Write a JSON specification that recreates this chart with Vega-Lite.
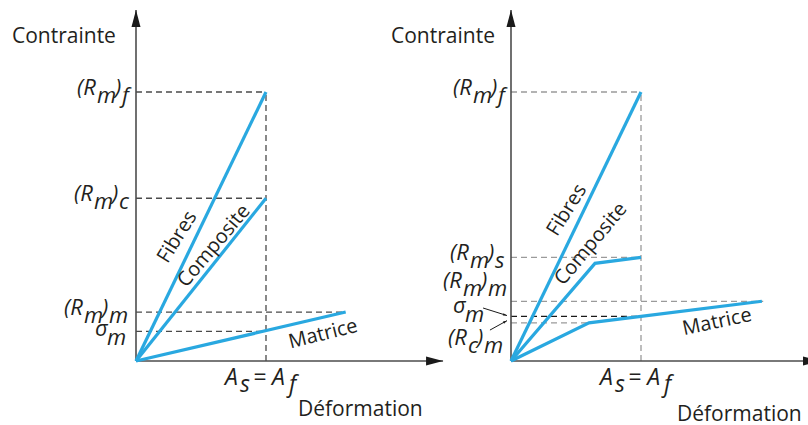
{
  "$schema": "https://vega.github.io/schema/vega-lite/v6.json",
  "autosize": {"type": "pad"},
  "padding": 0,
  "spacing": 0,
  "bounds": "flush",
  "background": "white",
  "config": {"view": {"stroke": null}, "font": "Open Sans", "text": {"color": "#231f20"}},
  "datasets": {
    "curves": [
      {"panel": "L", "series": "Fibres", "step": 0, "strain": 0, "stress": 0},
      {"panel": "L", "series": "Fibres", "step": 1, "strain": 1, "stress": 100},
      {"panel": "L", "series": "Composite", "step": 0, "strain": 0, "stress": 0},
      {"panel": "L", "series": "Composite", "step": 1, "strain": 1, "stress": 60.5},
      {"panel": "L", "series": "Matrice", "step": 0, "strain": 0, "stress": 0},
      {"panel": "L", "series": "Matrice", "step": 1, "strain": 1.613, "stress": 18.2},
      {"panel": "R", "series": "Fibres", "step": 0, "strain": 0, "stress": 0},
      {"panel": "R", "series": "Fibres", "step": 1, "strain": 1, "stress": 100},
      {"panel": "R", "series": "Composite", "step": 0, "strain": 0, "stress": 0},
      {"panel": "R", "series": "Composite", "step": 1, "strain": 0.646, "stress": 36.3},
      {"panel": "R", "series": "Composite", "step": 2, "strain": 1, "stress": 38.5},
      {"panel": "R", "series": "Matrice", "step": 0, "strain": 0, "stress": 0},
      {"panel": "R", "series": "Matrice", "step": 1, "strain": 0.6, "stress": 14.2},
      {"panel": "R", "series": "Matrice", "step": 2, "strain": 1, "stress": 16.6},
      {"panel": "R", "series": "Matrice", "step": 3, "strain": 1.93, "stress": 22.2}
    ],
    "guides": [
      {"panel": "L", "name": "Rmf", "strain": 0, "stress": 100, "strain2": 1, "stress2": 100},
      {"panel": "L", "name": "Rmc", "strain": 0, "stress": 60.5, "strain2": 1, "stress2": 60.5},
      {"panel": "L", "name": "Rmm", "strain": 0, "stress": 18.2, "strain2": 1.613, "stress2": 18.2},
      {"panel": "L", "name": "sigma", "strain": 0, "stress": 11, "strain2": 1, "stress2": 11},
      {"panel": "L", "name": "As", "strain": 1, "stress": 0, "strain2": 1, "stress2": 100},
      {"panel": "R", "name": "Rmf", "strain": 0, "stress": 100, "strain2": 1, "stress2": 100},
      {"panel": "R", "name": "Rms", "strain": 0, "stress": 38.5, "strain2": 1, "stress2": 38.5},
      {"panel": "R", "name": "Rmm", "strain": 0, "stress": 22.2, "strain2": 1.94, "stress2": 22.2},
      {"panel": "R", "name": "sigma", "strain": 0, "stress": 16.6, "strain2": 1, "stress2": 16.6},
      {"panel": "R", "name": "Rcm", "strain": 0, "stress": 14.2, "strain2": 0.6, "stress2": 14.2},
      {"panel": "R", "name": "As", "strain": 1, "stress": 0, "strain2": 1, "stress2": 100}
    ],
    "axes": [
      {"panel": "L", "dir": "y", "strain": 0, "stress": 0, "strain2": 0, "stress2": 130.5},
      {"panel": "L", "dir": "x", "strain": 0, "stress": 0, "strain2": 2.362, "stress2": 0},
      {"panel": "R", "dir": "y", "strain": 0, "stress": 0, "strain2": 0, "stress2": 130.5},
      {"panel": "R", "dir": "x", "strain": 0, "stress": 0, "strain2": 2.377, "stress2": 0}
    ],
    "pointers": [
      {"panel": "R", "name": "sigma", "strain": -0.215, "stress": 19.7, "strain2": -0.031, "stress2": 16.9},
      {"panel": "R", "name": "Rcm", "strain": -0.162, "stress": 11.5, "strain2": -0.031, "stress2": 15.0}
    ],
    "ticklabels": [
      {"panel": "L", "kind": "paren", "p1": "(R", "s1": "m", "p2": ")", "s2": "f", "strain": -0.454, "stress": 100},
      {"panel": "L", "kind": "paren", "p1": "(R", "s1": "m", "p2": ")", "s2": "c", "strain": -0.477, "stress": 60.5},
      {"panel": "L", "kind": "paren", "p1": "(R", "s1": "m", "p2": ")", "s2": "m", "strain": -0.554, "stress": 18.2},
      {"panel": "L", "kind": "sigma", "p1": "σ", "s1": "m", "p2": "", "s2": "", "strain": -0.315, "stress": 11},
      {"panel": "L", "kind": "As", "p1": "A", "s1": "s", "p2": "= A", "s2": "f", "strain": 1, "stress": 0},
      {"panel": "R", "kind": "paren", "p1": "(R", "s1": "m", "p2": ")", "s2": "f", "strain": -0.446, "stress": 100},
      {"panel": "R", "kind": "paren", "p1": "(R", "s1": "m", "p2": ")", "s2": "s", "strain": -0.469, "stress": 38.5},
      {"panel": "R", "kind": "paren", "p1": "(R", "s1": "m", "p2": ")", "s2": "m", "strain": -0.523, "stress": 28.3},
      {"panel": "R", "kind": "sigma", "p1": "σ", "s1": "m", "p2": "", "s2": "", "strain": -0.446, "stress": 19.7},
      {"panel": "R", "kind": "parenc", "p1": "(R", "s1": "c", "p2": ")", "s2": "m", "strain": -0.485, "stress": 7.1},
      {"panel": "R", "kind": "As", "p1": "A", "s1": "s", "p2": "= A", "s2": "f", "strain": 1, "stress": 0}
    ],
    "curvelabels": [
      {"panel": "L", "label": "Fibres", "strain": 0.318, "stress": 46.1},
      {"panel": "L", "label": "Composite", "strain": 0.6, "stress": 42.8},
      {"panel": "L", "label": "Matrice", "strain": 1.44, "stress": 10.0},
      {"panel": "R", "label": "Fibres", "strain": 0.43, "stress": 56.1},
      {"panel": "R", "label": "Composite", "strain": 0.615, "stress": 43.5},
      {"panel": "R", "label": "Matrice", "strain": 1.585, "stress": 14.5}
    ],
    "titles": [
      {"panel": "L", "text": "Contrainte", "strain": -0.954, "stress": 118.2},
      {"panel": "L", "text": "Déformation", "strain": 1.246, "stress": -20.4},
      {"panel": "R", "text": "Contrainte", "strain": -0.923, "stress": 118.2},
      {"panel": "R", "text": "Déformation", "strain": 1.277, "stress": -22.4}
    ]
  },
  "hconcat": [
    {
      "width": 390,
      "height": 425,
      "encoding": {
        "x": {"field": "strain", "type": "quantitative", "scale": {"domain": [-1.04615, 1.95385], "nice": false, "zero": false}, "axis": null},
        "y": {"field": "stress", "type": "quantitative", "scale": {"domain": [-23.7918, 134.2007], "nice": false, "zero": false}, "axis": null}
      },
      "layer": [
        {"data": {"name": "guides"}, "transform": [{"filter": "datum.panel == 'L'"}],
         "mark": {"type": "rule", "color": "#4a4a4a", "strokeWidth": 1.3, "strokeDash": [6, 4]},
         "encoding": {"x2": {"field": "strain2"}, "y2": {"field": "stress2"}}},
        {"data": {"name": "axes"}, "transform": [{"filter": "datum.panel == 'L'"}],
         "mark": {"type": "rule", "color": "#4d4d4d", "strokeWidth": 1.6},
         "encoding": {"x2": {"field": "strain2"}, "y2": {"field": "stress2"}}},
        {"data": {"name": "axes"}, "transform": [{"filter": "datum.panel == 'L' && datum.dir == 'y'"}],
         "mark": {"type": "point", "shape": "M0,0L0.53,2L-0.53,2Z", "size": 289, "filled": true, "opacity": 1, "color": "#1a1a1a", "strokeWidth": 0},
         "encoding": {"x": {"field": "strain2", "type": "quantitative"}, "y": {"field": "stress2", "type": "quantitative"}}},
        {"data": {"name": "axes"}, "transform": [{"filter": "datum.panel == 'L' && datum.dir == 'x'"}],
         "mark": {"type": "point", "shape": "M0,0L-2,0.53L-2,-0.53Z", "size": 289, "filled": true, "opacity": 1, "color": "#1a1a1a", "strokeWidth": 0},
         "encoding": {"x": {"field": "strain2", "type": "quantitative"}, "y": {"field": "stress2", "type": "quantitative"}}},
        {"data": {"name": "curves"}, "transform": [{"filter": "datum.panel == 'L'"}],
         "mark": {"type": "line", "color": "#29a8e0", "strokeWidth": 3.2, "strokeJoin": "miter"},
         "encoding": {"detail": {"field": "series"}, "order": {"field": "step", "type": "quantitative"}}},
        {"data": {"name": "curvelabels"}, "transform": [{"filter": "datum.panel == 'L' && datum.label == 'Fibres'"}],
         "mark": {"type": "text", "angle": -58, "fontSize": 20, "align": "center", "baseline": "middle"},
         "encoding": {"text": {"field": "label"}}},
        {"data": {"name": "curvelabels"}, "transform": [{"filter": "datum.panel == 'L' && datum.label == 'Composite'"}],
         "mark": {"type": "text", "angle": -50, "fontSize": 20, "align": "center", "baseline": "middle"},
         "encoding": {"text": {"field": "label"}}},
        {"data": {"name": "curvelabels"}, "transform": [{"filter": "datum.panel == 'L' && datum.label == 'Matrice'"}],
         "mark": {"type": "text", "angle": -14, "fontSize": 20, "align": "center", "baseline": "middle"},
         "encoding": {"text": {"field": "label"}}},
        {"data": {"name": "ticklabels"}, "transform": [{"filter": "datum.panel == 'L' && datum.kind == 'paren'"}],
         "mark": {"type": "text", "fontSize": 22, "fontStyle": "italic", "align": "left", "baseline": "alphabetic", "dy": 3},
         "encoding": {"text": {"field": "p1"}}},
        {"data": {"name": "ticklabels"}, "transform": [{"filter": "datum.panel == 'L' && datum.kind == 'paren'"}],
         "mark": {"type": "text", "fontSize": 22, "fontStyle": "italic", "align": "left", "baseline": "alphabetic", "dx": 20, "dy": 11},
         "encoding": {"text": {"field": "s1"}}},
        {"data": {"name": "ticklabels"}, "transform": [{"filter": "datum.panel == 'L' && datum.kind == 'paren'"}],
         "mark": {"type": "text", "fontSize": 22, "fontStyle": "italic", "align": "left", "baseline": "alphabetic", "dx": 38, "dy": 3},
         "encoding": {"text": {"field": "p2"}}},
        {"data": {"name": "ticklabels"}, "transform": [{"filter": "datum.panel == 'L' && datum.kind == 'paren'"}],
         "mark": {"type": "text", "fontSize": 22, "fontStyle": "italic", "align": "left", "baseline": "alphabetic", "dx": 45, "dy": 11},
         "encoding": {"text": {"field": "s2"}}},
        {"data": {"name": "ticklabels"}, "transform": [{"filter": "datum.panel == 'L' && datum.kind == 'sigma'"}],
         "mark": {"type": "text", "fontSize": 22, "fontStyle": "italic", "align": "left", "baseline": "alphabetic", "dy": 5},
         "encoding": {"text": {"field": "p1"}}},
        {"data": {"name": "ticklabels"}, "transform": [{"filter": "datum.panel == 'L' && datum.kind == 'sigma'"}],
         "mark": {"type": "text", "fontSize": 22, "fontStyle": "italic", "align": "left", "baseline": "alphabetic", "dx": 12, "dy": 14},
         "encoding": {"text": {"field": "s1"}}},
        {"data": {"name": "ticklabels"}, "transform": [{"filter": "datum.panel == 'L' && datum.kind == 'As'"}],
         "mark": {"type": "text", "fontSize": 23, "fontStyle": "italic", "align": "left", "baseline": "alphabetic", "dx": -41, "dy": 24},
         "encoding": {"text": {"field": "p1"}}},
        {"data": {"name": "ticklabels"}, "transform": [{"filter": "datum.panel == 'L' && datum.kind == 'As'"}],
         "mark": {"type": "text", "fontSize": 23, "fontStyle": "italic", "align": "left", "baseline": "alphabetic", "dx": -26, "dy": 31},
         "encoding": {"text": {"field": "s1"}}},
        {"data": {"name": "ticklabels"}, "transform": [{"filter": "datum.panel == 'L' && datum.kind == 'As'"}],
         "mark": {"type": "text", "fontSize": 23, "fontStyle": "italic", "align": "left", "baseline": "alphabetic", "dx": -13, "dy": 24},
         "encoding": {"text": {"field": "p2"}}},
        {"data": {"name": "ticklabels"}, "transform": [{"filter": "datum.panel == 'L' && datum.kind == 'As'"}],
         "mark": {"type": "text", "fontSize": 23, "fontStyle": "italic", "align": "left", "baseline": "alphabetic", "dx": 23, "dy": 31},
         "encoding": {"text": {"field": "s2"}}},
        {"data": {"name": "titles"}, "transform": [{"filter": "datum.panel == 'L'"}],
         "mark": {"type": "text", "fontSize": 21, "align": "left", "baseline": "alphabetic"},
         "encoding": {"text": {"field": "text"}}}
      ]
    },
    {
      "width": 418,
      "height": 425,
      "encoding": {
        "x": {"field": "strain", "type": "quantitative", "scale": {"domain": [-0.93077, 2.28462], "nice": false, "zero": false}, "axis": null},
        "y": {"field": "stress", "type": "quantitative", "scale": {"domain": [-23.7918, 134.2007], "nice": false, "zero": false}, "axis": null}
      },
      "layer": [
        {"data": {"name": "guides"}, "transform": [{"filter": "datum.panel == 'R' && datum.name != 'sigma'"}],
         "mark": {"type": "rule", "color": "#9a9a9a", "strokeWidth": 1.3, "strokeDash": [6, 4]},
         "encoding": {"x2": {"field": "strain2"}, "y2": {"field": "stress2"}}},
        {"data": {"name": "guides"}, "transform": [{"filter": "datum.panel == 'R' && datum.name == 'sigma'"}],
         "mark": {"type": "rule", "color": "#1a1a1a", "strokeWidth": 1.3, "strokeDash": [6, 4]},
         "encoding": {"x2": {"field": "strain2"}, "y2": {"field": "stress2"}}},
        {"data": {"name": "axes"}, "transform": [{"filter": "datum.panel == 'R'"}],
         "mark": {"type": "rule", "color": "#4d4d4d", "strokeWidth": 1.6},
         "encoding": {"x2": {"field": "strain2"}, "y2": {"field": "stress2"}}},
        {"data": {"name": "axes"}, "transform": [{"filter": "datum.panel == 'R' && datum.dir == 'y'"}],
         "mark": {"type": "point", "shape": "M0,0L0.53,2L-0.53,2Z", "size": 289, "filled": true, "opacity": 1, "color": "#1a1a1a", "strokeWidth": 0},
         "encoding": {"x": {"field": "strain2", "type": "quantitative"}, "y": {"field": "stress2", "type": "quantitative"}}},
        {"data": {"name": "axes"}, "transform": [{"filter": "datum.panel == 'R' && datum.dir == 'x'"}],
         "mark": {"type": "point", "shape": "M0,0L-2,0.53L-2,-0.53Z", "size": 289, "filled": true, "opacity": 1, "color": "#1a1a1a", "strokeWidth": 0},
         "encoding": {"x": {"field": "strain2", "type": "quantitative"}, "y": {"field": "stress2", "type": "quantitative"}}},
        {"data": {"name": "pointers"}, "transform": [{"filter": "datum.panel == 'R'"}],
         "mark": {"type": "rule", "color": "#1a1a1a", "strokeWidth": 1},
         "encoding": {"x2": {"field": "strain2"}, "y2": {"field": "stress2"}}},
        {"data": {"name": "pointers"}, "transform": [{"filter": "datum.name == 'sigma'"}],
         "mark": {"type": "point", "shape": "M0,0L-2,0.6L-2,-0.6Z", "size": 16, "angle": 17, "filled": true, "opacity": 1, "color": "#1a1a1a", "strokeWidth": 0},
         "encoding": {"x": {"field": "strain2", "type": "quantitative"}, "y": {"field": "stress2", "type": "quantitative"}}},
        {"data": {"name": "pointers"}, "transform": [{"filter": "datum.name == 'Rcm'"}],
         "mark": {"type": "point", "shape": "M0,0L-2,0.6L-2,-0.6Z", "size": 16, "angle": -29, "filled": true, "opacity": 1, "color": "#1a1a1a", "strokeWidth": 0},
         "encoding": {"x": {"field": "strain2", "type": "quantitative"}, "y": {"field": "stress2", "type": "quantitative"}}},
        {"data": {"name": "curves"}, "transform": [{"filter": "datum.panel == 'R'"}],
         "mark": {"type": "line", "color": "#29a8e0", "strokeWidth": 3.2, "strokeJoin": "miter"},
         "encoding": {"detail": {"field": "series"}, "order": {"field": "step", "type": "quantitative"}}},
        {"data": {"name": "curvelabels"}, "transform": [{"filter": "datum.panel == 'R' && datum.label == 'Fibres'"}],
         "mark": {"type": "text", "angle": -58, "fontSize": 20, "align": "center", "baseline": "middle"},
         "encoding": {"text": {"field": "label"}}},
        {"data": {"name": "curvelabels"}, "transform": [{"filter": "datum.panel == 'R' && datum.label == 'Composite'"}],
         "mark": {"type": "text", "angle": -50, "fontSize": 20, "align": "center", "baseline": "middle"},
         "encoding": {"text": {"field": "label"}}},
        {"data": {"name": "curvelabels"}, "transform": [{"filter": "datum.panel == 'R' && datum.label == 'Matrice'"}],
         "mark": {"type": "text", "angle": -12, "fontSize": 20, "align": "center", "baseline": "middle"},
         "encoding": {"text": {"field": "label"}}},
        {"data": {"name": "ticklabels"}, "transform": [{"filter": "datum.panel == 'R' && (datum.kind == 'paren' || datum.kind == 'parenc')"}],
         "mark": {"type": "text", "fontSize": 22, "fontStyle": "italic", "align": "left", "baseline": "alphabetic", "dy": 3},
         "encoding": {"text": {"field": "p1"}}},
        {"data": {"name": "ticklabels"}, "transform": [{"filter": "datum.panel == 'R' && (datum.kind == 'paren' || datum.kind == 'parenc')"}],
         "mark": {"type": "text", "fontSize": 22, "fontStyle": "italic", "align": "left", "baseline": "alphabetic", "dx": 20, "dy": 11},
         "encoding": {"text": {"field": "s1"}}},
        {"data": {"name": "ticklabels"}, "transform": [{"filter": "datum.panel == 'R' && datum.kind == 'paren'"}],
         "mark": {"type": "text", "fontSize": 22, "fontStyle": "italic", "align": "left", "baseline": "alphabetic", "dx": 38, "dy": 3},
         "encoding": {"text": {"field": "p2"}}},
        {"data": {"name": "ticklabels"}, "transform": [{"filter": "datum.panel == 'R' && datum.kind == 'paren'"}],
         "mark": {"type": "text", "fontSize": 22, "fontStyle": "italic", "align": "left", "baseline": "alphabetic", "dx": 45, "dy": 11},
         "encoding": {"text": {"field": "s2"}}},
        {"data": {"name": "ticklabels"}, "transform": [{"filter": "datum.panel == 'R' && datum.kind == 'parenc'"}],
         "mark": {"type": "text", "fontSize": 22, "fontStyle": "italic", "align": "left", "baseline": "alphabetic", "dx": 29, "dy": 3},
         "encoding": {"text": {"field": "p2"}}},
        {"data": {"name": "ticklabels"}, "transform": [{"filter": "datum.panel == 'R' && datum.kind == 'parenc'"}],
         "mark": {"type": "text", "fontSize": 22, "fontStyle": "italic", "align": "left", "baseline": "alphabetic", "dx": 36, "dy": 11},
         "encoding": {"text": {"field": "s2"}}},
        {"data": {"name": "ticklabels"}, "transform": [{"filter": "datum.panel == 'R' && datum.kind == 'sigma'"}],
         "mark": {"type": "text", "fontSize": 22, "fontStyle": "italic", "align": "left", "baseline": "alphabetic", "dy": 5},
         "encoding": {"text": {"field": "p1"}}},
        {"data": {"name": "ticklabels"}, "transform": [{"filter": "datum.panel == 'R' && datum.kind == 'sigma'"}],
         "mark": {"type": "text", "fontSize": 22, "fontStyle": "italic", "align": "left", "baseline": "alphabetic", "dx": 12, "dy": 14},
         "encoding": {"text": {"field": "s1"}}},
        {"data": {"name": "ticklabels"}, "transform": [{"filter": "datum.panel == 'R' && datum.kind == 'As'"}],
         "mark": {"type": "text", "fontSize": 23, "fontStyle": "italic", "align": "left", "baseline": "alphabetic", "dx": -41, "dy": 24},
         "encoding": {"text": {"field": "p1"}}},
        {"data": {"name": "ticklabels"}, "transform": [{"filter": "datum.panel == 'R' && datum.kind == 'As'"}],
         "mark": {"type": "text", "fontSize": 23, "fontStyle": "italic", "align": "left", "baseline": "alphabetic", "dx": -26, "dy": 31},
         "encoding": {"text": {"field": "s1"}}},
        {"data": {"name": "ticklabels"}, "transform": [{"filter": "datum.panel == 'R' && datum.kind == 'As'"}],
         "mark": {"type": "text", "fontSize": 23, "fontStyle": "italic", "align": "left", "baseline": "alphabetic", "dx": -13, "dy": 24},
         "encoding": {"text": {"field": "p2"}}},
        {"data": {"name": "ticklabels"}, "transform": [{"filter": "datum.panel == 'R' && datum.kind == 'As'"}],
         "mark": {"type": "text", "fontSize": 23, "fontStyle": "italic", "align": "left", "baseline": "alphabetic", "dx": 23, "dy": 31},
         "encoding": {"text": {"field": "s2"}}},
        {"data": {"name": "titles"}, "transform": [{"filter": "datum.panel == 'R'"}],
         "mark": {"type": "text", "fontSize": 21, "align": "left", "baseline": "alphabetic"},
         "encoding": {"text": {"field": "text"}}}
      ]
    }
  ]
}
